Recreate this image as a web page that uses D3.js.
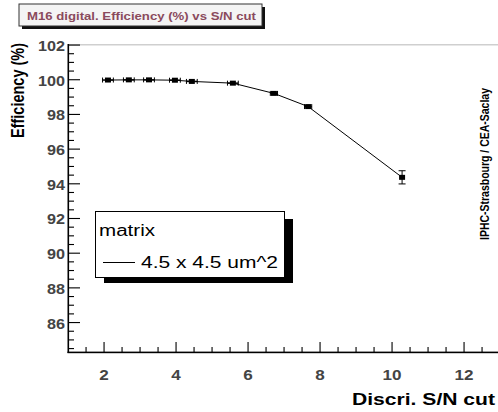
<!DOCTYPE html>
<html>
<head>
<meta charset="utf-8">
<script src="https://cdn.jsdelivr.net/npm/d3@7"></script>
<style>
  body { margin: 0; background: #fff; }
  text { font-family: "Liberation Sans", Arial, sans-serif; }
</style>
</head>
<body>
<div class="chart"></div>
<script>
// values
const snCut = [2.11, 2.69, 3.25, 3.97, 4.44, 5.58, 6.72, 7.67, 10.28];
const efficiency = [99.98, 99.99, 99.99, 99.97, 99.9, 99.8, 99.21, 98.45, 94.37];
const effError = [0.03, 0.03, 0.03, 0.03, 0.03, 0.03, 0.05, 0.1, 0.38];
const cutError = [0.15, 0.15, 0.15, 0.15, 0.15, 0.15, 0.1, 0.1, 0];
const xTicks = [2, 4, 6, 8, 10, 12];
const yTicks = [86, 88, 90, 92, 94, 96, 98, 100, 102];
const xMinor = d3.range(1.5, 12.6, 0.5).filter(v => v % 2 !== 0);
const yMinor = d3.range(84.5, 102.01, 0.5).filter(v => v % 2 !== 0);
const legendTitle = "matrix";
const seriesName = "4.5 x 4.5 um^2";

const W = 498, H = 412;
const xScale = d3.scaleLinear().domain([1, 13]).range([68, 500]);
const yScale = d3.scaleLinear().domain([84.3, 102]).range([352, 45]);

const svg = d3.select(".chart").append("svg")
  .attr("width", W).attr("height", H);

// title box
svg.append("rect").attr("x", 22).attr("y", 7).attr("width", 243).attr("height", 22).attr("fill", "#111");
svg.append("rect").attr("x", 19).attr("y", 4).attr("width", 243).attr("height", 22)
  .attr("fill", "#f4f4f4").attr("stroke", "#333").attr("stroke-width", 1);
svg.append("text").attr("x", 27).attr("y", 19.5)
  .attr("font-size", "11.5px").attr("font-weight", "bold").attr("fill", "#8a4a5c")
  .attr("textLength", 229).attr("lengthAdjust", "spacingAndGlyphs")
  .text("M16 digital. Efficiency (%) vs S/N cut");

// top frame line (grey)
svg.append("rect").attr("x", 68).attr("y", 44).attr("width", W - 68).attr("height", 1.5)
  .attr("fill", "#cfcfcf");

// frame axes
svg.append("rect").attr("x", 67.5).attr("y", 44).attr("width", 1.6).attr("height", 309).attr("fill", "#000");
svg.append("rect").attr("x", 67.5).attr("y", 351.6).attr("width", W - 67).attr("height", 1.6).attr("fill", "#000");

// inward ticks as thin filled bars
const tg = svg.append("g");
tg.selectAll("rect.yt").data(yTicks.concat(yMinor)).enter().append("rect")
  .attr("x", 68).attr("y", d => yScale(d) - 0.5)
  .attr("width", d => (yTicks.includes(d) ? 12 : 6)).attr("height", 1.1)
  .attr("fill", "#000");
tg.selectAll("rect.xt").data(xTicks.concat(xMinor)).enter().append("rect")
  .attr("x", d => xScale(d) - 0.5).attr("y", d => (xTicks.includes(d) ? 342 : 347))
  .attr("width", 1.1).attr("height", d => (xTicks.includes(d) ? 10 : 5))
  .attr("fill", "#000");

svg.append("g")
  .selectAll("text").data(yTicks).enter().append("text")
  .attr("x", 65).attr("y", d => yScale(d) + 6)
  .attr("text-anchor", "end").attr("font-size", "15px").attr("font-weight", "bold")
  .attr("textLength", d => String(d).length * 9).attr("lengthAdjust", "spacingAndGlyphs")
  .attr("fill", "#444").text(d => d);

svg.append("g")
  .selectAll("text").data(xTicks).enter().append("text")
  .attr("x", d => xScale(d)).attr("y", 380)
  .attr("text-anchor", "middle").attr("font-size", "14px").attr("font-weight", "bold")
  .attr("textLength", d => String(d).length * 9.5).attr("lengthAdjust", "spacingAndGlyphs")
  .attr("fill", "#444").text(d => d);

// axis titles
svg.append("text")
  .attr("transform", "translate(24,43) scale(1.3,1) rotate(-90)")
  .attr("text-anchor", "end").attr("font-size", "14.5px").attr("font-weight", "bold")
  .text("Efficiency (%)");
svg.append("text").attr("x", 495).attr("y", 405)
  .attr("text-anchor", "end").attr("font-size", "16px").attr("font-weight", "bold")
  .attr("textLength", 143).attr("lengthAdjust", "spacingAndGlyphs")
  .text("Discri. S/N cut");
svg.append("text")
  .attr("transform", "translate(489,164) scale(1.3,1) rotate(-90)")
  .attr("text-anchor", "middle").attr("font-size", "10.5px").attr("font-weight", "bold")
  .text("IPHC-Strasbourg / CEA-Saclay");

// data line
const pts = snCut.map((x, i) => ({ x: x, y: efficiency[i], ey: effError[i], ex: cutError[i] }));
svg.append("path").datum(pts)
  .attr("fill", "none").attr("stroke", "#000").attr("stroke-width", 1)
  .attr("d", d3.line().x(d => xScale(d.x)).y(d => yScale(d.y)));

const marks = svg.append("g").selectAll("g").data(pts).enter().append("g");
// y errors
marks.append("line")
  .attr("x1", d => xScale(d.x)).attr("x2", d => xScale(d.x))
  .attr("y1", d => yScale(d.y - d.ey)).attr("y2", d => yScale(d.y + d.ey))
  .attr("stroke", "#000");
marks.filter(d => d.ey > 0.2).each(function (d) {
  const g = d3.select(this);
  [d.y - d.ey, d.y + d.ey].forEach(v => {
    g.append("line").attr("x1", xScale(d.x) - 3.5).attr("x2", xScale(d.x) + 3.5)
      .attr("y1", yScale(v)).attr("y2", yScale(v)).attr("stroke", "#000");
  });
});
// x errors with end caps
marks.filter(d => d.ex > 0).each(function (d) {
  const g = d3.select(this);
  g.append("line").attr("x1", xScale(d.x - d.ex)).attr("x2", xScale(d.x + d.ex))
    .attr("y1", yScale(d.y)).attr("y2", yScale(d.y)).attr("stroke", "#000").attr("stroke-width", 1.5);
  [d.x - d.ex, d.x + d.ex].forEach(v => {
    g.append("line").attr("x1", xScale(v)).attr("x2", xScale(v))
      .attr("y1", yScale(d.y) - 2.5).attr("y2", yScale(d.y) + 2.5).attr("stroke", "#000");
  });
});
marks.append("rect")
  .attr("x", d => xScale(d.x) - 3).attr("y", d => yScale(d.y) - 2.5)
  .attr("width", 6).attr("height", 5).attr("fill", "#000");

// legend box
svg.append("rect").attr("x", 104).attr("y", 219).attr("width", 189).attr("height", 64).attr("fill", "#000");
svg.append("rect").attr("x", 95.5).attr("y", 211.5).attr("width", 189).attr("height", 66)
  .attr("fill", "#fff").attr("stroke", "#000").attr("stroke-width", 1);
svg.append("text").attr("x", 99).attr("y", 236).attr("font-size", "16px")
  .attr("textLength", 56).attr("lengthAdjust", "spacingAndGlyphs").text(legendTitle);
svg.append("line").attr("x1", 103).attr("x2", 135).attr("y1", 262.5).attr("y2", 262.5)
  .attr("stroke", "#000");
svg.append("text").attr("x", 141).attr("y", 268).attr("font-size", "16px")
  .attr("textLength", 137).attr("lengthAdjust", "spacingAndGlyphs").text(seriesName);
</script>
</body>
</html>
